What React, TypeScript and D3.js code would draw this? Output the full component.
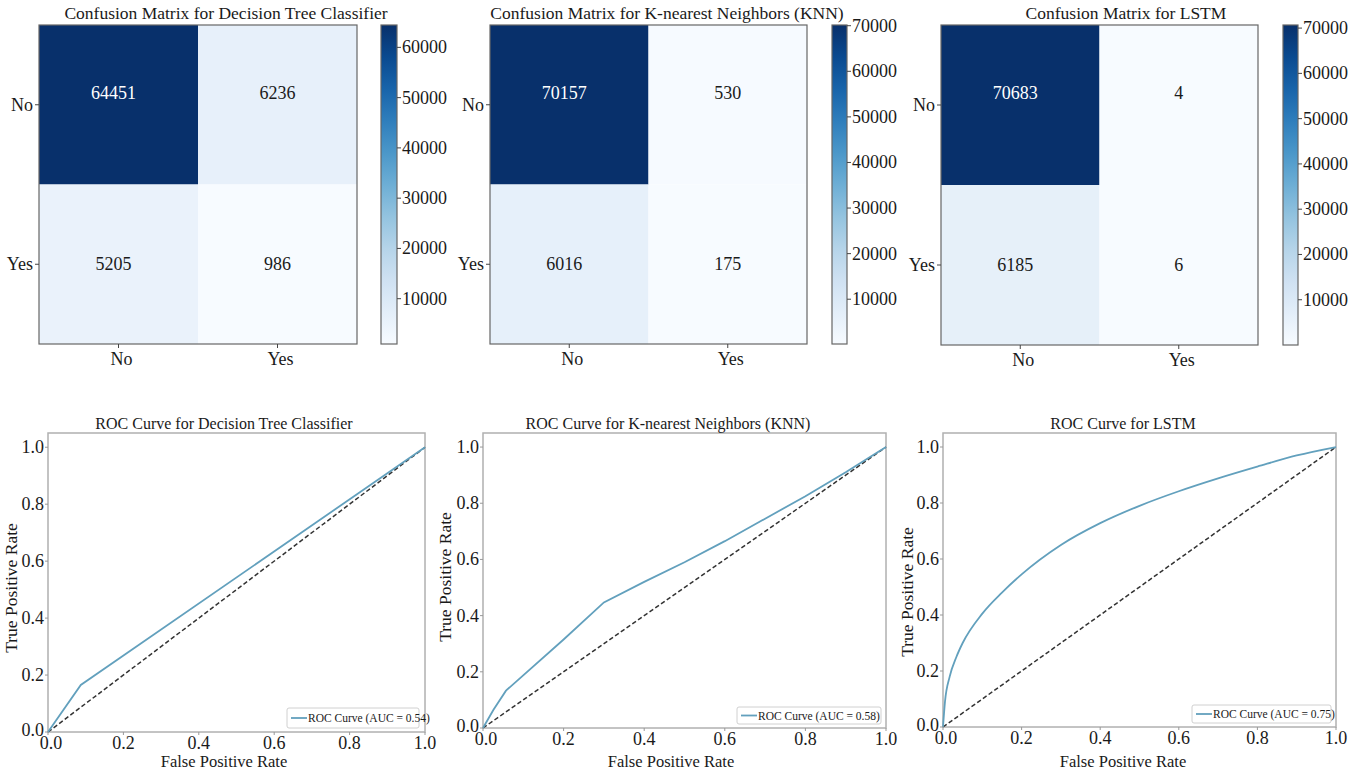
import React, { useRef, useEffect } from "react";
import * as d3 from "d3";

// class labels and confusion matrices (rows = true, cols = predicted)
const classLabels = ["No", "Yes"];
const dtMatrix = [[64451, 6236], [5205, 986]];
const knnMatrix = [[70157, 530], [6016, 175]];
const lstmMatrix = [[70683, 4], [6185, 6]];

// colorbar ticks
const dtBarTicks = [10000, 20000, 30000, 40000, 50000, 60000];
const knnBarTicks = [10000, 20000, 30000, 40000, 50000, 60000, 70000];
const lstmBarTicks = [10000, 20000, 30000, 40000, 50000, 60000, 70000];

// ROC axis ticks
const rocTicks = [0, 0.2, 0.4, 0.6, 0.8, 1.0];

// ROC curves
const dtFpr = [0, 0.087, 1];
const dtTpr = [0, 0.165, 1];
const knnFpr = [0, 0.026, 0.057, 0.2, 0.3, 0.4, 0.5, 0.6, 0.7, 0.8, 0.9, 1];
const knnTpr = [0, 0.065, 0.133, 0.315, 0.447, 0.52, 0.59, 0.665, 0.745, 0.825, 0.91, 1];
const lstmFpr = [0, 0.005, 0.017, 0.034, 0.05, 0.1, 0.15, 0.2, 0.3, 0.4, 0.5, 0.6, 0.7, 0.8, 0.9, 1];
const lstmTpr = [0, 0.09, 0.18, 0.25, 0.3, 0.405, 0.48, 0.545, 0.65, 0.728, 0.79, 0.842, 0.888, 0.93, 0.97, 1];

const modelNames = ["Decision Tree Classifier", "K-nearest Neighbors (KNN)", "LSTM"];
const aucValues = ["0.54", "0.58", "0.75"];

const matrices = [dtMatrix, knnMatrix, lstmMatrix];
const barTicks = [dtBarTicks, knnBarTicks, lstmBarTicks];
const rocFpr = [dtFpr, knnFpr, lstmFpr];
const rocTpr = [dtTpr, knnTpr, lstmTpr];

// panel placement
const cmLayout = [
    { x0: 39, x1: 357, y0: 25, y1: 344, cb0: 381, cb1: 397, titleX: 226 },
    { x0: 490, x1: 807, y0: 25, y1: 344, cb0: 832, cb1: 847, titleX: 667 },
    { x0: 941, x1: 1258, y0: 25, y1: 345, cb0: 1283, cb1: 1298, titleX: 1126 },
];
const rocLayout = [
    { x0: 48, x1: 425, y0: 433, y1: 732, titleX: 224, xlabX: 224, ylabX: 17, ylabY: 588, lg: [287, 708, 419, 728] },
    { x0: 483, x1: 886, y0: 433, y1: 728, titleX: 668, xlabX: 671, ylabX: 451, ylabY: 577, lg: [737, 707, 881, 724] },
    { x0: 943, x1: 1336, y0: 433, y1: 727, titleX: 1123, xlabX: 1123, ylabX: 913, ylabY: 592, lg: [1192, 705, 1331, 723] },
];

const FONT = "'Liberation Serif', 'Times New Roman', serif";
const TEXT = "#1a1a1a";
const ROC_BLUE = "#62a0bd";

const App = () => {
    const svgRef = useRef(null);

    useEffect(() => {
        const svg = d3.select(svgRef.current);
        svg.selectAll("*").remove();
        const defs = svg.append("defs");

        // Confusion matrices
        matrices.forEach((m, i) => {
            const L = cmLayout[i];
            const g = svg.append("g").attr("font-family", FONT);
            const flat = m.flat();
            const lo = d3.min(flat), hi = d3.max(flat);
            const color = d3.scaleSequential(d3.interpolateBlues).domain([lo, hi]);

            const x = d3.scaleBand().domain(classLabels).range([L.x0, L.x1]);
            const y = d3.scaleBand().domain(classLabels).range([L.y0, L.y1]);

            m.forEach((row, r) => {
                row.forEach((v, c) => {
                    g.append("rect")
                        .attr("x", x(classLabels[c]))
                        .attr("y", y(classLabels[r]))
                        .attr("width", x.bandwidth())
                        .attr("height", y.bandwidth())
                        .attr("fill", color(v));
                    g.append("text")
                        .attr("x", x(classLabels[c]) + x.bandwidth() / 2 - (c === 0 ? 5 : 0))
                        .attr("y", y(classLabels[r]) + y.bandwidth() / 2 - (r === 0 ? 12 : 0))
                        .attr("text-anchor", "middle")
                        .attr("dominant-baseline", "central")
                        .attr("font-size", 18)
                        .attr("fill", (v - lo) / (hi - lo) > 0.5 ? "#ffffff" : TEXT)
                        .text(v);
                });
            });

            g.append("rect")
                .attr("x", L.x0).attr("y", L.y0)
                .attr("width", L.x1 - L.x0).attr("height", L.y1 - L.y0)
                .attr("fill", "none").attr("stroke", "#666").attr("stroke-width", 1.2);

            // ticks on both axes
            classLabels.forEach(lab => {
                const cy = y(lab) + y.bandwidth() / 2;
                g.append("line").attr("x1", L.x0 - 4).attr("x2", L.x0).attr("y1", cy).attr("y2", cy).attr("stroke", "#444");
                g.append("text")
                    .attr("x", L.x0 - 6).attr("y", cy)
                    .attr("text-anchor", "end").attr("dominant-baseline", "central")
                    .attr("font-size", 18).attr("fill", TEXT).text(lab);
                const cx = x(lab) + x.bandwidth() / 2;
                g.append("line").attr("x1", cx).attr("x2", cx).attr("y1", L.y1).attr("y2", L.y1 + 4).attr("stroke", "#444");
                g.append("text")
                    .attr("x", cx + 3).attr("y", L.y1 + 21)
                    .attr("text-anchor", "middle")
                    .attr("font-size", 18).attr("fill", TEXT).text(lab);
            });

            g.append("text")
                .attr("x", L.titleX).attr("y", 19)
                .attr("text-anchor", "middle")
                .attr("font-size", 17.5).attr("fill", TEXT)
                .text(`Confusion Matrix for ${modelNames[i]}`);

            // colorbar
            const gid = `cb-grad-${i}`;
            const grad = defs.append("linearGradient").attr("id", gid)
                .attr("x1", 0).attr("x2", 0).attr("y1", 1).attr("y2", 0);
            d3.range(0, 1.0001, 0.1).forEach(t => {
                grad.append("stop").attr("offset", t).attr("stop-color", d3.interpolateBlues(t));
            });
            const cbScale = d3.scaleLinear().domain([lo, hi]).range([L.y1, L.y0]);
            g.append("rect")
                .attr("x", L.cb0).attr("y", L.y0)
                .attr("width", L.cb1 - L.cb0).attr("height", L.y1 - L.y0)
                .attr("fill", `url(#${gid})`).attr("stroke", "#666").attr("stroke-width", 1.2);
            barTicks[i].forEach(t => {
                const ty = cbScale(t);
                g.append("line").attr("x1", L.cb1).attr("x2", L.cb1 + 4).attr("y1", ty).attr("y2", ty).attr("stroke", "#444");
                g.append("text")
                    .attr("x", L.cb1 + 5).attr("y", ty)
                    .attr("dominant-baseline", "central")
                    .attr("font-size", 18).attr("fill", TEXT).text(t);
            });
        });

        // ROC curves
        rocFpr.forEach((fpr, i) => {
            const L = rocLayout[i];
            const g = svg.append("g").attr("font-family", FONT);
            const x = d3.scaleLinear().domain([0, 1]).range([L.x0, L.x1]);
            const y = d3.scaleLinear().domain([0, 1.05]).range([L.y1, L.y0]);
            const pts = fpr.map((f, k) => [f, rocTpr[i][k]]);

            const line = d3.line()
                .x(d => x(d[0]))
                .y(d => y(d[1]))
                .curve(i === 2 ? d3.curveMonotoneX : d3.curveLinear);

            g.append("rect")
                .attr("x", L.x0).attr("y", L.y0)
                .attr("width", L.x1 - L.x0).attr("height", L.y1 - L.y0)
                .attr("fill", "#fff").attr("stroke", "#b0b0b0").attr("stroke-width", 1.5);

            g.append("path")
                .attr("d", line([[0, 0], [1, 1]]))
                .attr("fill", "none").attr("stroke", "#333")
                .attr("stroke-width", 1.5).attr("stroke-dasharray", "4.5,2.5");

            g.append("path")
                .attr("d", line(pts))
                .attr("fill", "none").attr("stroke", ROC_BLUE)
                .attr("stroke-width", 1.8);

            rocTicks.forEach(t => {
                g.append("line").attr("x1", x(t)).attr("x2", x(t)).attr("y1", L.y1).attr("y2", L.y1 + 3).attr("stroke", "#999");
                g.append("text")
                    .attr("x", x(t) + (t === 0 ? 3 : 0)).attr("y", L.y1 + 17)
                    .attr("text-anchor", "middle")
                    .attr("font-size", 18).attr("fill", TEXT).text(t.toFixed(1));
                g.append("line").attr("x1", L.x0 - 3).attr("x2", L.x0).attr("y1", y(t)).attr("y2", y(t)).attr("stroke", "#999");
                g.append("text")
                    .attr("x", L.x0 - 4).attr("y", y(t) - (t === 0 ? 2 : 0))
                    .attr("text-anchor", "end").attr("dominant-baseline", "central")
                    .attr("font-size", 18).attr("fill", TEXT).text(t.toFixed(1));
            });

            g.append("text")
                .attr("x", L.titleX).attr("y", 429)
                .attr("text-anchor", "middle")
                .attr("font-size", 16).attr("fill", TEXT)
                .text(`ROC Curve for ${modelNames[i]}`);

            g.append("text")
                .attr("x", L.xlabX).attr("y", 767)
                .attr("text-anchor", "middle")
                .attr("font-size", 16.5).attr("fill", TEXT)
                .text("False Positive Rate");

            g.append("text")
                .attr("transform", `translate(${L.ylabX},${L.ylabY}) rotate(-90)`)
                .attr("text-anchor", "middle")
                .attr("font-size", 17.5).attr("fill", TEXT)
                .text("True Positive Rate");

            // legend
            const [lx0, ly0, lx1, ly1] = L.lg;
            g.append("rect")
                .attr("x", lx0).attr("y", ly0)
                .attr("width", lx1 - lx0).attr("height", ly1 - ly0)
                .attr("rx", 2)
                .attr("fill", "#fff").attr("stroke", "#d0d0d0");
            const my = (ly0 + ly1) / 2;
            g.append("line")
                .attr("x1", lx0 + 4).attr("x2", lx0 + 20)
                .attr("y1", my).attr("y2", my)
                .attr("stroke", ROC_BLUE).attr("stroke-width", 1.8);
            g.append("text")
                .attr("x", lx0 + 21).attr("y", my)
                .attr("dominant-baseline", "central")
                .attr("font-size", 11.5).attr("fill", TEXT)
                .text(`ROC Curve (AUC = ${aucValues[i]})`);
        });
    }, []);

    return (
        <svg
            ref={svgRef}
            width={1364}
            height={775}
            style={{ position: "absolute", left: 0, top: 0, background: "#fff" }}
        ></svg>
    );
};

export default App;
